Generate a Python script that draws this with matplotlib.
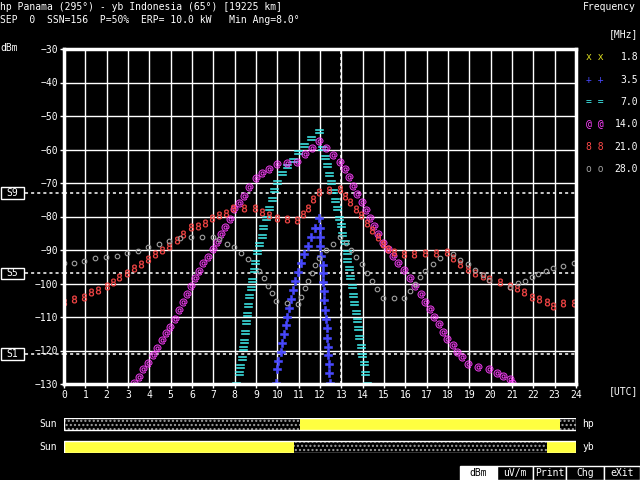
import matplotlib
matplotlib.use("Agg")
import matplotlib.pyplot as plt
import matplotlib.transforms as mtransforms
from matplotlib.patches import Rectangle

# ---- data ----
f35_h = [9.94, 9.97, 10.05, 10.16, 10.23, 10.31, 10.41, 10.47, 10.56, 10.64,
         10.72, 10.83, 10.95, 11.11, 11.25, 11.45, 11.58, 11.77, 11.97,
         12.0, 12.0, 12.0, 12.03, 12.13, 12.13, 12.16, 12.19, 12.2, 12.23,
         12.27, 12.31, 12.34, 12.36, 12.39, 12.42, 12.44, 12.47]
f35_db = [-129.8, -125.5, -123.0, -120.4, -117.9, -115.2, -112.4, -109.9, -107.2, -104.6,
          -101.9, -99.3, -96.7, -94.0, -91.3, -88.7, -86.0, -83.5, -80.5,
          -83.3, -86.0, -88.7, -91.7, -94.5, -97.0, -99.5, -102.2, -104.9, -107.9,
          -110.7, -113.4, -116.2, -118.9, -121.3, -124.1, -126.8, -129.8]

f7_h = [8.06, 8.22, 8.25, 8.33, 8.4, 8.45, 8.48, 8.53, 8.59, 8.64,
        8.69, 8.75, 8.83, 8.91, 8.95, 9.06, 9.16, 9.27, 9.34, 9.47,
        9.62, 9.73, 9.86, 9.97, 10.2, 10.47, 10.72, 10.95, 11.27, 11.58,
        11.97, 12.1, 12.23, 12.31, 12.42, 12.5, 12.61, 12.72, 12.81, 12.9,
        12.98, 13.04, 13.17, 13.25, 13.28, 13.35, 13.41, 13.48, 13.53, 13.59,
        13.67, 13.73, 13.77, 13.84, 13.91, 13.98, 14.04, 14.12, 14.22]
f7_db = [-130.0, -126.8, -124.5, -122.3, -119.3, -117.2, -114.4, -111.6, -109.2, -106.4,
         -103.7, -101.2, -99.0, -96.0, -93.5, -90.7, -88.3, -85.7, -83.0, -80.5,
         -77.6, -74.8, -72.1, -69.6, -67.1, -64.9, -63.1, -60.7, -58.7, -56.7,
         -54.5, -59.6, -62.1, -64.6, -67.4, -69.8, -72.4, -75.1, -77.6, -80.4,
         -82.5, -85.3, -87.7, -90.5, -93.0, -95.5, -98.0, -100.7, -103.4, -105.9,
         -108.4, -110.9, -113.4, -115.9, -118.6, -121.3, -123.8, -126.8, -130.0]

f14_h = [3.28, 3.53, 3.72, 3.95, 4.16, 4.38, 4.58, 4.77, 4.97, 5.19,
         5.38, 5.56, 5.75, 5.97, 6.16, 6.34, 6.53, 6.77, 6.97, 7.16,
         7.38, 7.55, 7.78, 7.97, 8.2, 8.45, 8.67, 8.98, 9.3, 9.62,
         9.97, 10.47, 10.94, 11.3, 11.61, 11.96, 12.28, 12.63, 12.94, 13.17,
         13.38, 13.56, 13.75, 13.95, 14.14, 14.34, 14.53, 14.73, 14.94, 15.2,
         15.44, 15.67, 15.95, 16.22, 16.45, 16.72, 16.94, 17.16, 17.36, 17.56,
         17.75, 17.94, 18.22, 18.44, 18.67, 18.95, 19.42, 19.94, 20.28, 20.59,
         20.91, 21.02]
f14_db = [-129.8, -127.8, -125.6, -123.8, -121.3, -119.3, -116.9, -114.9, -112.9, -110.6,
          -107.9, -105.6, -103.1, -100.7, -98.4, -96.3, -94.0, -92.0, -89.8, -87.5,
          -85.2, -83.0, -80.7, -77.9, -76.1, -73.8, -71.1, -68.4, -67.1, -65.9,
          -64.4, -64.1, -63.6, -61.4, -59.6, -57.4, -59.5, -61.6, -63.6, -65.9,
          -68.3, -70.9, -73.3, -75.8, -78.1, -80.5, -82.8, -85.2, -87.8, -89.8,
          -91.8, -93.8, -96.0, -98.4, -100.7, -103.1, -105.6, -107.7, -110.1, -112.1,
          -114.6, -116.7, -118.4, -120.4, -122.0, -124.0, -124.8, -125.6, -126.6, -127.6,
          -128.6, -129.8]

f21_h = [0, 0.47, 0.95, 1.27, 1.6, 2.0, 2.3, 2.6, 2.97, 3.28,
         3.6, 3.95, 4.28, 4.6, 4.94, 5.3, 5.6, 5.95, 6.3, 6.6,
         6.95, 7.28, 7.6, 7.94, 8.44, 8.95, 9.3, 9.62, 9.97, 10.44,
         10.9, 11.19, 11.45, 11.69, 11.97, 12.42, 12.94, 13.17, 13.4, 13.69,
         13.94, 14.19, 14.42, 14.7, 14.94, 15.2, 15.47, 15.94, 16.4, 16.94,
         17.44, 17.94, 18.25, 18.56, 18.92, 19.27, 19.63, 19.94, 20.44, 20.9,
         21.25, 21.56, 21.95, 22.28, 22.63, 22.94, 23.4, 23.9]
f21_db = [-105.4, -104.7, -103.9, -102.6, -101.9, -100.6, -99.5, -98.2, -96.8, -95.5,
          -94.2, -92.8, -91.2, -90.0, -88.7, -87.0, -85.3, -83.2, -82.7, -81.8,
          -80.5, -79.6, -78.9, -77.6, -77.6, -77.6, -78.6, -79.6, -80.4, -80.7,
          -81.0, -79.4, -77.4, -74.8, -72.6, -72.1, -71.8, -73.8, -75.7, -77.8,
          -79.6, -82.0, -84.0, -86.0, -88.2, -89.8, -90.5, -91.3, -91.2, -90.8,
          -90.8, -90.5, -92.5, -94.2, -95.8, -97.0, -97.8, -98.8, -99.7, -100.6,
          -101.4, -102.6, -103.9, -104.7, -105.5, -106.7, -105.9, -105.7]

f28_h = [0, 0.47, 0.95, 1.45, 1.97, 2.47, 2.97, 3.45, 3.95, 4.45,
         4.94, 5.44, 5.95, 6.45, 6.97, 7.28, 7.63, 7.97, 8.3, 8.64,
         9.14, 9.36, 9.56, 9.73, 9.94, 10.44, 10.96, 11.09, 11.3, 11.43,
         11.63, 11.77, 11.97, 12.28, 12.63, 12.94, 13.22, 13.46, 13.69, 13.95,
         14.19, 14.42, 14.68, 14.95, 15.47, 15.94, 16.22, 16.45, 16.68, 16.92,
         17.29, 17.63, 18.25, 18.58, 18.95, 19.27, 19.63, 19.94, 20.91, 21.3,
         21.61, 21.92, 22.23, 22.59, 22.94, 23.4, 23.9]
f28_db = [-94.0, -93.8, -93.2, -92.5, -92.2, -91.7, -91.0, -90.2, -89.2, -88.2,
          -87.3, -86.5, -86.2, -86.2, -86.2, -86.8, -88.2, -89.2, -90.8, -92.7,
          -96.4, -98.5, -100.7, -102.9, -105.2, -105.7, -106.2, -103.9, -101.4, -99.2,
          -96.8, -94.5, -92.3, -90.0, -88.1, -86.2, -87.8, -90.1, -92.2, -94.2,
          -96.9, -99.2, -101.5, -104.3, -104.3, -104.3, -102.2, -100.1, -98.2, -96.3,
          -94.2, -92.3, -91.2, -93.0, -94.3, -96.0, -97.4, -99.0, -101.0, -99.9,
          -99.2, -98.2, -97.1, -96.3, -95.3, -94.8, -94.0]

freq_labels = ["1.8", "3.5", "7.0", "14.0", "21.0", "28.0"]
freq_symbols = ["x x", "+ +", "= =", "@ @", "8 8", "o o"]
freq_colors = ["#d8d820", "#4848ff", "#40f0f0", "#ff40ff", "#ff4848", "#a0a0a0"]

s_levels = [-73, -97, -121]
s_labels = ["S9", "S5", "S1"]
now_utc = 13

# sunlight at each end (UTC hours)
hp_day = (11.05, 23.25)
yb_night = (10.8, 22.65)

buttons = ["dBm", "uV/m", "Print", "Chg", "eXit"]

title1 = "hp Panama (295°) - yb Indonesia (65°) [19225 km]"
title2 = "SEP  0  SSN=156  P=50%  ERP= 10.0 kW   Min Ang=8.0°"

# ---- drawing ----
plt.rcParams["font.family"] = ["DejaVu Sans Mono"]
FS = 7
W, H = 640, 480

fig = plt.figure(figsize=(6.4, 4.8), dpi=100, facecolor="black")


def fx(px):
    return px / W


def fy(py):
    return 1 - py / H


ax = fig.add_axes([fx(64), fy(384), fx(576) - fx(64), fy(49) - fy(384)])
ax.set_facecolor("black")
ax.set_xlim(0, 24)
ax.set_ylim(-130, -30)
ax.set_xticks(range(0, 25))
ax.set_yticks(range(-130, -29, 10))
ax.grid(True, color="white", lw=1.0)
ax.tick_params(colors="white", labelsize=FS, length=3, width=1, pad=1)
for sp in ax.spines.values():
    sp.set_color("white")
    sp.set_linewidth(2.5)

ax.axvline(now_utc, color="white", lw=1.1, ls=(0, (2, 2)))

blend = mtransforms.blended_transform_factory(fig.transFigure, ax.transData)
for lev, lab in zip(s_levels, s_labels):
    ax.axhline(lev, color="white", lw=1.1, ls=(0, (2, 2)))
    ax.plot([fx(25), fx(64)], [lev, lev], color="white", lw=1.1, ls=(0, (2, 2)),
            transform=blend, clip_on=False)
    ax.add_patch(Rectangle((fx(1), lev - 1.7), fx(23), 3.4, transform=blend,
                           fill=False, ec="white", lw=1, clip_on=False))
    ax.text(fx(12.5), lev, lab, transform=blend, color="white", fontsize=FS,
            ha="center", va="center")

ax.plot(f35_h, f35_db, ls="none", marker="$+$", ms=6, color=freq_colors[1], mew=0.4)
ax.plot(f7_h, f7_db, ls="none", marker="$=$", ms=6, color=freq_colors[2], mew=0.4)
ax.plot(f14_h, f14_db, ls="none", marker="$@$", ms=5.5, color=freq_colors[3], mew=0.2)
ax.plot(f21_h, f21_db, ls="none", marker="$8$", ms=5.5, color=freq_colors[4], mew=0.2)
ax.plot(f28_h, f28_db, ls="none", marker="o", ms=3.3, mfc="none",
        mec=freq_colors[5], mew=0.8)

# texts
fig.text(0, fy(7), title1, color="white", fontsize=FS, va="center")
fig.text(0, fy(20), title2, color="white", fontsize=FS, va="center")
fig.text(0, fy(48), "dBm", color="white", fontsize=FS, va="center")
fig.text(fx(638), fy(391), "[UTC]", color="white", fontsize=FS, va="center", ha="right")
fig.text(fx(583), fy(7), "Frequency", color="white", fontsize=FS, va="center")
fig.text(fx(638), fy(34), "[MHz]", color="white", fontsize=FS, va="center", ha="right")
legend_y = [57, 80, 102, 124, 147, 169]
for ly, sym, lab, col in zip(legend_y, freq_symbols, freq_labels, freq_colors):
    fig.text(fx(586), fy(ly), sym, color=col, fontsize=FS, va="center")
    fig.text(fx(638), fy(ly), lab, color="white", fontsize=FS, va="center", ha="right")

# sun bars
axs = fig.add_axes([fx(64), fy(453), fx(576) - fx(64), fy(418) - fy(453)])
axs.set_facecolor("black")
axs.set_xlim(0, 24)
axs.set_ylim(-0.26, 1.26)
axs.axis("off")
bh = 0.52
day_kw = dict(height=bh, color="#ffff40", lw=0)
night_kw = dict(height=bh, facecolor="black", edgecolor="#a0a0a0", hatch="....", lw=0)
# hp (top)
axs.barh(1, hp_day[0], left=0, **night_kw)
axs.barh(1, hp_day[1] - hp_day[0], left=hp_day[0], **day_kw)
axs.barh(1, 24 - hp_day[1], left=hp_day[1], **night_kw)
# yb (bottom)
axs.barh(0, yb_night[0], left=0, **day_kw)
axs.barh(0, yb_night[1] - yb_night[0], left=yb_night[0], **night_kw)
axs.barh(0, 24 - yb_night[1], left=yb_night[1], **day_kw)
axs.barh([0, 1], 24, left=0, height=bh, fill=False, edgecolor="white", lw=1)
for yy, site in zip([1, 0], ["hp", "yb"]):
    axs.text(-0.35, yy, "Sun", color="white", fontsize=FS, va="center", ha="right")
    axs.text(24.3, yy, site, color="white", fontsize=FS, va="center", ha="left")

# button row
bx = [460, 497, 533, 566, 604, 640]
for i, lab in enumerate(buttons):
    active = i == 0
    fig.add_artist(Rectangle((fx(bx[i]), fy(480)), fx(bx[i + 1] - bx[i]), fy(466) - fy(480),
                             transform=fig.transFigure, fc="white" if active else "black",
                             ec="white", lw=1))
    fig.text(fx((bx[i] + bx[i + 1]) / 2), fy(473), lab, fontsize=FS, ha="center", va="center",
             color="black" if active else "white")

fig.savefig("out.png", dpi=100, facecolor="black")
